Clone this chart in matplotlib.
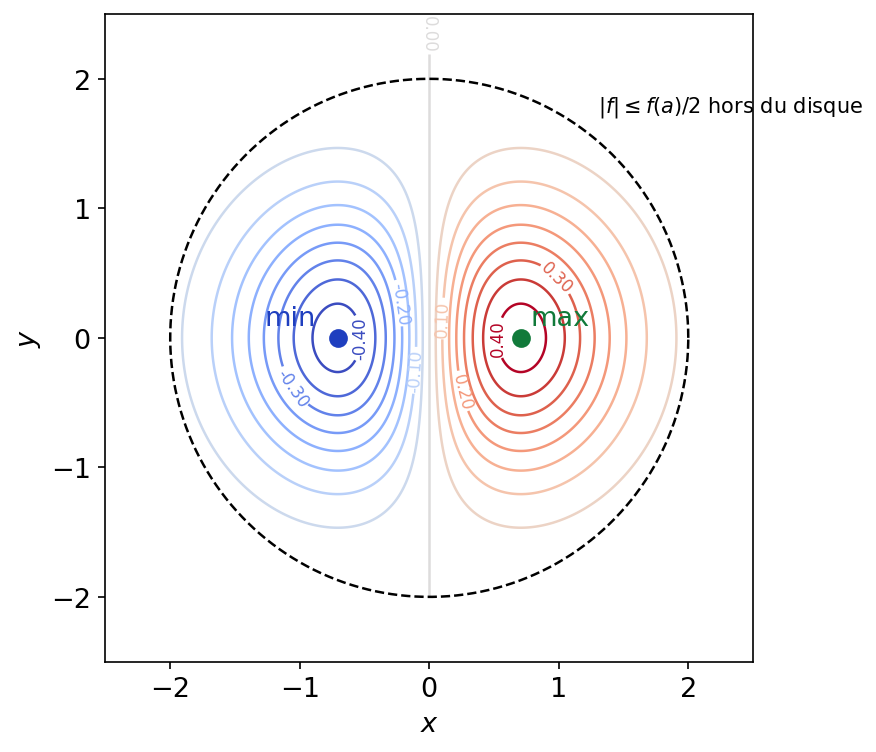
import numpy as np
import matplotlib
matplotlib.use("Agg")
import matplotlib.pyplot as plt

levels = [-0.40,-0.35,-0.30,-0.25,-0.20,-0.15,-0.10,-0.05,0.00,0.05,0.10,0.15,0.20,0.25,0.30,0.35,0.40]
label_levels = [-0.40,-0.30,-0.20,-0.10,0.00,0.10,0.20,0.30,0.40]
label_pos = [(-0.55,0.0),(-1.05,-0.38),(-0.22,0.27),(-0.12,-0.25),(0.0,2.35),
             (0.08,0.15),(0.22,-0.42),(0.97,0.45),(0.52,0.0)]
pmin = (-0.7071, 0.0)
pmax = (0.7071, 0.0)

fig = plt.figure(figsize=(5.84, 5.02), dpi=150)
ax = fig.add_axes([0.12, 0.12, 0.74, 0.86])
gx = np.linspace(-2.15, 2.15, 601)
gy = np.linspace(-2.0, 2.45, 601)
X, Y = np.meshgrid(gx, gy)
Z = X*np.exp(-(X**2+Y**2))
Z = np.ma.masked_where((X**2+Y**2 > 2.15**2) & ~((np.abs(X) < 0.1) & (Y > 0)), Z)
other = [l for l in levels if l not in label_levels]
ax.contour(X, Y, Z, levels=other, cmap='coolwarm', vmin=-0.4, vmax=0.4, linewidths=1.2)
cs = ax.contour(X, Y, Z, levels=label_levels, cmap='coolwarm', vmin=-0.4, vmax=0.4, linewidths=1.2)
ax.clabel(cs, fmt='%.2f', fontsize=8, inline=True, manual=label_pos)
t = np.linspace(0, 2*np.pi, 400)
ax.plot(2*np.cos(t), 2*np.sin(t), 'k--', lw=1.2)
ax.plot(*pmin, 'o', color='#1f3fbf', ms=8)
ax.plot(*pmax, 'o', color='#117a3a', ms=8)
ax.text(-1.27, 0.1, 'min', color='#1f3fbf', fontsize=13)
ax.text(0.78, 0.1, 'max', color='#117a3a', fontsize=13)
ax.text(1.3, 1.75, r'$|f|\leq f(a)/2$ hors du disque', fontsize=10)
ax.set_xlim(-2.5, 2.5); ax.set_ylim(-2.5, 2.5)
ax.set_aspect('equal')
ax.set_xlabel('$x$', fontsize=13); ax.set_ylabel('$y$', fontsize=13)
ax.tick_params(labelsize=13)
fig.savefig('out.png')
